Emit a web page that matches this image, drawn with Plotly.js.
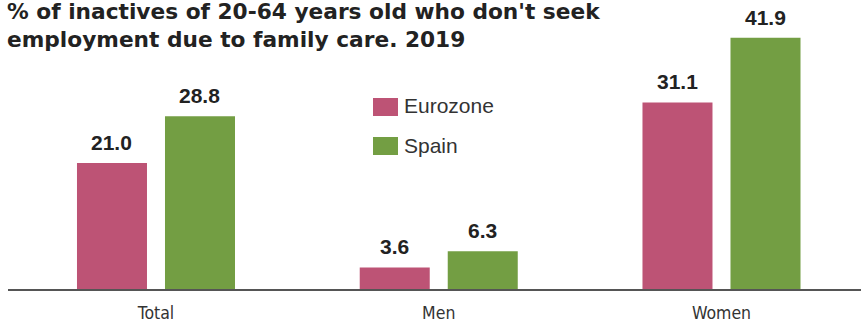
<!DOCTYPE html>
<html>
<head>
<meta charset="utf-8">
<script src="https://cdn.plot.ly/plotly-3.0.1.min.js"></script>
<style>html,body{margin:0;padding:0;background:#fff;}#chart{width:861px;height:323px;}</style>
</head>
<body>
<div id="chart"></div>
<script>
const categories = ['Total', 'Men', 'Women'];
const seriesNames = ['Eurozone', 'Spain'];
const eurozone = [21.0, 3.6, 31.1];
const spain = [28.8, 6.3, 41.9];
const titleText = "% of inactives of 20-64 years old who don't seek<br>employment due to family care. 2019";

const colors = ['#BD5375', '#739E43'];
const W = 861, H = 323;
const M = {l: 8, r: 0, t: 30, b: 34};
const PW = W - M.l - M.r, PH = H - M.t - M.b;
const px2x = p => (p - M.l) / PW;
const px2y = p => (H - M.b - p) / PH;

const series = [eurozone, spain];
const traces = series.map((vals, i) => ({
  type: 'bar',
  name: seriesNames[i],
  x: categories,
  y: vals,
  marker: {color: colors[i], line: {width: 0}},
  hoverinfo: 'none'
}));

const annotations = [];
series.forEach((vals, i) => {
  vals.forEach((v, j) => {
    annotations.push({
      x: categories[j], y: v, xref: 'x', yref: 'y',
      text: v.toFixed(1), showarrow: false,
      xshift: i === 0 ? -44 : 44, yanchor: 'bottom', yshift: 7,
      font: {family: 'Liberation Sans, Arial, sans-serif', size: 21, weight: 700, color: '#222'}
    });
  });
});

// manual legend
const legendItems = [{cy: 107}, {cy: 146}];
const shapes = [];
legendItems.forEach((it, i) => {
  shapes.push({
    type: 'rect', xref: 'paper', yref: 'paper',
    x0: px2x(373), x1: px2x(398), y0: px2y(it.cy - 9), y1: px2y(it.cy + 9),
    fillcolor: colors[i], line: {width: 0}
  });
  annotations.push({
    xref: 'paper', yref: 'paper', x: px2x(402), y: px2y(it.cy - 1),
    xanchor: 'left', yanchor: 'middle', showarrow: false,
    text: seriesNames[i],
    font: {family: 'Liberation Sans, Arial, sans-serif', size: 21, color: '#333'}
  });
});

const layout = {
  width: W, height: H,
  margin: M,
  paper_bgcolor: '#fff', plot_bgcolor: '#fff',
  showlegend: false,
  barmode: 'group',
  bargap: 0.3775,
  bargroupgap: 0.2045,
  title: {
    text: titleText,
    xref: 'container', yref: 'container',
    x: 7 / W, xanchor: 'left',
    y: 1 - 19 / H, yanchor: 'top',
    pad: {t: 0, l: 0},
    font: {family: 'DejaVu Sans, sans-serif', size: 21.7, weight: 700, color: '#222'}
  },
  xaxis: {
    type: 'category',
    range: [-0.5234, 2.4934],
    showline: true, linecolor: '#555', linewidth: 1.5,
    showgrid: false, zeroline: false, ticks: '',
    ticklabelstandoff: 7,
    tickfont: {family: 'Liberation Sans Narrow, DejaVu Sans Condensed, sans-serif', size: 17.5, color: '#333'},
    fixedrange: true
  },
  yaxis: {
    range: [0, 43.18],
    showgrid: false, zeroline: false, showticklabels: false, showline: false, ticks: '',
    fixedrange: true
  },
  shapes: shapes,
  annotations: annotations
};

Plotly.newPlot('chart', traces, layout, {displayModeBar: false, staticPlot: true});
</script>
</body>
</html>
